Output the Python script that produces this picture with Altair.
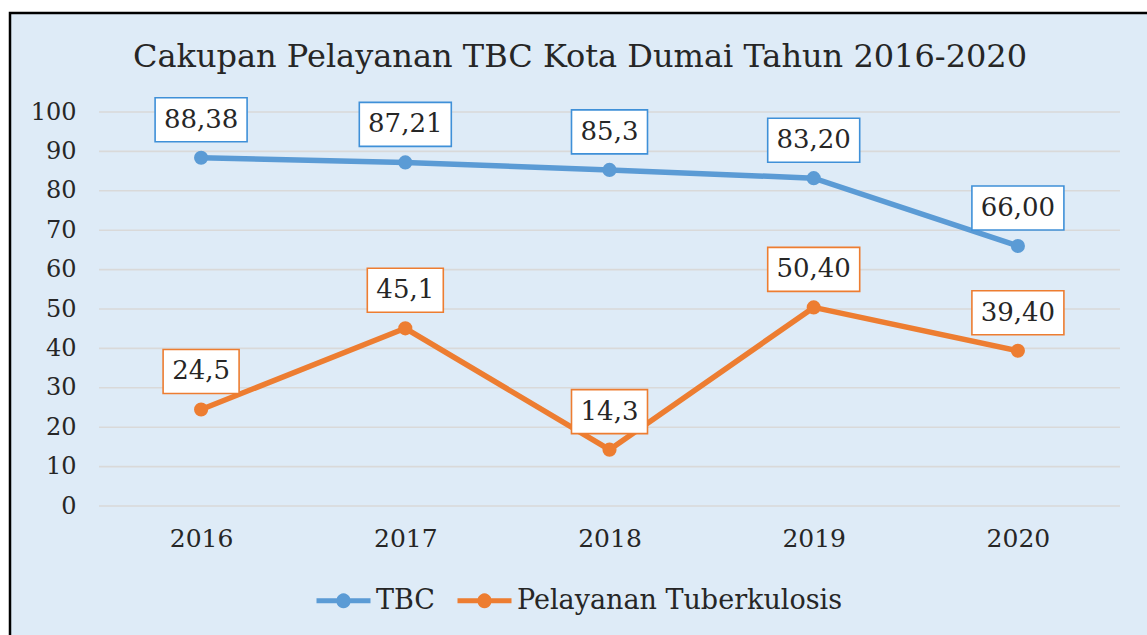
import altair as alt
import pandas as pd

# Data: service coverage in Kota Dumai, 2016-2020
years = [2016, 2017, 2018, 2019, 2020]
series_names = ["TBC", "Pelayanan Tuberkulosis"]
tbc_labels = ["88,38", "87,21", "85,3", "83,20", "66,00"]
pelayanan_labels = ["24,5", "45,1", "14,3", "50,40", "39,40"]
y_ticks = list(range(0, 101, 10))
title_text = "Cakupan Pelayanan TBC Kota Dumai Tahun 2016-2020"

line_colors = ["#5B9BD5", "#ED7D31"]
box_colors = ["#3F90D8", "#ED7D31"]
FONT = "DejaVu Serif"
TEXT = "#262626"

rows = []
for name, labels in zip(series_names, [tbc_labels, pelayanan_labels]):
    for yr, lab in zip(years, labels):
        rows.append({"tahun": yr, "seri": name, "nilai": float(lab.replace(",", ".")),
                     "label": lab, "panjang": len(lab)})
df = pd.DataFrame(rows)

W, H = 1021, 394
PAD = {"left": 99, "top": 112, "right": 27, "bottom": 129}

x_scale = alt.Scale(domain=[2015.5, 2020.5], nice=False)
y_scale = alt.Scale(domain=[0, 100], nice=False)

x_axis = alt.Axis(values=years, format="d", title=None, grid=False, domain=False,
                  ticks=False, labelFont=FONT, labelFontSize=25, labelColor=TEXT,
                  labelPadding=20, zindex=1)
y_axis = alt.Axis(values=y_ticks, title=None, domain=False, ticks=False, grid=False,
                  labelFont=FONT, labelFontSize=24, labelColor=TEXT,
                  labelPadding=23, zindex=1)

x = alt.X("tahun:Q", scale=x_scale, axis=x_axis)
y = alt.Y("nilai:Q", scale=y_scale, axis=y_axis)

color_scale = alt.Scale(domain=series_names, range=line_colors)
stroke_scale = alt.Scale(domain=series_names, range=box_colors)

base = alt.Chart(df)

# panel background with black frame
frame = alt.Chart(pd.DataFrame({"a": [0]})).mark_rect(
    fill="#DEEBF7", stroke="#000000", strokeWidth=2.5
).encode(x=alt.value(-89), x2=alt.value(1200), y=alt.value(-99), y2=alt.value(700))

title = alt.Chart(pd.DataFrame({"t": [title_text]})).mark_text(
    font=FONT, fontSize=32, color=TEXT, align="center", baseline="middle"
).encode(x=alt.value(481), y=alt.value(-55), text="t:N")

grid = alt.Chart(pd.DataFrame({"nilai": y_ticks})).mark_rule(
    color="#D9D9D9", strokeWidth=1.6
).encode(y=y, x=alt.value(0), x2=alt.value(W))

legend_symbol = ("M-1,0H1"
                 "M-0.167,0a0.167,0.167 0 1,0 0.333,0a0.167,0.167 0 1,0 -0.333,0"
                 "M-0.074,0a0.074,0.074 0 1,0 0.148,0a0.074,0.074 0 1,0 -0.148,0")

lines = base.mark_line(strokeWidth=5.5).encode(
    x=x, y=y,
    color=alt.Color("seri:N", scale=color_scale, sort=series_names,
                    legend=alt.Legend(title=None, orient="none", direction="horizontal",
                                      legendX=215, legendY=459,
                                      symbolType=legend_symbol, symbolSize=2916,
                                      symbolStrokeWidth=5, labelFont=FONT, labelFontSize=27,
                                      labelColor=TEXT, labelOffset=3, columnPadding=11,
                                      labelLimit=600)),
)

points = base.mark_point(filled=True, size=200, opacity=1).encode(
    x=x, y=y, color=alt.Color("seri:N", scale=color_scale, legend=None)
)

box_wide = base.transform_filter("datum.panjang == 5").mark_rect(
    width=92, height=44, yOffset=-38, fill="white", strokeWidth=1.6
).encode(x=x, y=y, stroke=alt.Stroke("seri:N", scale=stroke_scale, legend=None))

box_narrow = base.transform_filter("datum.panjang == 4").mark_rect(
    width=76, height=44, yOffset=-38, fill="white", strokeWidth=1.6
).encode(x=x, y=y, stroke=alt.Stroke("seri:N", scale=stroke_scale, legend=None))

labels = base.mark_text(font=FONT, fontSize=26, color=TEXT, baseline="middle",
                        align="center", dy=-38).encode(x=x, y=y, text="label:N")

chart = alt.layer(frame, title, grid, lines, points, box_wide, box_narrow, labels).properties(
    width=W, height=H,
    padding=PAD,
    autosize=alt.AutoSizeParams(type="none"),
    background="white",
).configure_view(stroke=None)

chart.save("out.html", embed_options={"renderer": "svg", "actions": False})
